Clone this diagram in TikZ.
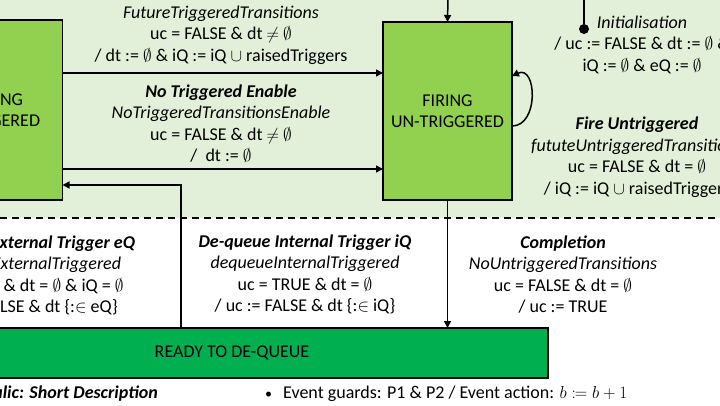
\documentclass[tikz,border=0pt]{standalone}
\usepackage{amssymb}
\usepackage{mathtools}
\usepackage{fontspec}
\setmainfont{Carlito}
\usepackage{tikz}
\usetikzlibrary{arrows.meta}
\definecolor{paleGreen}{HTML}{E2F0D9}
\definecolor{stateGreen}{HTML}{92D050}
\definecolor{readyGreen}{HTML}{00B050}
\newcommand{\eset}{\ensuremath{\emptyset}}

\begin{document}
\begin{tikzpicture}[x=1pt, y=-1pt, every text node part/.style={align=center}, font=\fontsize{18}{21.5}\selectfont, state/.style={draw, line width=1.5pt, fill=stateGreen, inner sep=0pt, outer sep=0pt}, lbl/.style={inner sep=0pt}, arr/.style={line width=1.5pt, -{Triangle[length=7pt,width=7pt]}}]
\clip (0,0) rectangle (720,405);
\fill[paleGreen] (0,0) rectangle (720,218);
\draw[line width=1.2pt, dash pattern=on 7pt off 5pt] (0,218) -- (720,218);

\node[state, minimum width=129pt, minimum height=180pt] (trig) at (-2,110) {FIRING\\TRIGGERED};
\node[state, minimum width=129pt, minimum height=178pt] (untrig) at (447.5,111) {FIRING\\UN-TRIGGERED};
\node[state, fill=readyGreen, minimum width=632pt, minimum height=50pt] (ready) at (232,353) {READY TO DE-QUEUE};

\draw[arr] ([yshift=-53pt]trig.north east) -- ([yshift=-53pt]trig.north east -| untrig.west);
\draw[arr] ([yshift=-149pt]trig.north east) -- ([yshift=-149pt]trig.north east -| untrig.west);
\draw[arr] ([xshift=-51pt]ready.north) |- ([yshift=15pt]trig.south east);
\draw[arr] (untrig.south) -- (untrig.south |- ready.north);
\coordinate (enter) at (448,-2);
\draw[arr] (enter) -- (untrig.north);
\draw[arr] ([yshift=-15pt]untrig.east) to[out=0, in=25, looseness=1.4] ([yshift=35pt]untrig.east);
\coordinate (initTop) at (584,-2);
\node[circle, fill, inner sep=0pt, minimum size=10pt] (initDot) at (584,29) {};
\draw[line width=1.5pt] (initTop) -- (initDot);

\node[lbl] (future) at (221,35) {\textit{FutureTriggeredTransitions}\\uc = FALSE \& dt $\neq$ \eset\\/ dt := \eset\ \& iQ := iQ $\cup$ raisedTriggers};
\node[lbl] (noTrig) at (221,123.5) {\textbf{\textit{No Triggered Enable}}\\\textit{NoTriggeredTransitionsEnable}\\uc = FALSE \& dt $\neq$ \eset\\/\ \ dt := \eset};
\node[lbl] (init) at (642,44.5) {\textit{Initialisation}\\/ uc := FALSE \& dt := \eset\ \&\\iQ := \eset\ \& eQ := \eset};
\node[lbl] (fire) at (637,157) {\textbf{\textit{Fire Untriggered}}\\\textit{fututeUntriggeredTransitions}\\uc = FALSE \& dt = \eset\\/ iQ := iQ $\cup$ raisedTriggers};
\node[lbl] (dqExt) at (25,275.5) {\textbf{\textit{De-queue External Trigger eQ}}\\\textit{dequeueExternalTriggered}\\uc = TRUE \& dt = \eset\ \& iQ = \eset\\/ uc := FALSE \& dt \{:$\in$ eQ\}};
\node[lbl] (dqInt) at (305,274.5) {\textbf{\textit{De-queue Internal Trigger iQ}}\\\textit{dequeueInternalTriggered}\\uc = TRUE \& dt = \eset\\/ uc := FALSE \& dt \{:$\in$ iQ\}};
\node[lbl] (compl) at (563,274.5) {\textbf{\textit{Completion}}\\\textit{NoUntriggeredTransitions}\\uc = FALSE \& dt = \eset\\/ uc := TRUE};

\node[lbl, anchor=east, font=\fontsize{18}{21.5}\selectfont\bfseries\itshape] (legendA) at (158,394) {Bold Italic: Short Description};
\node[lbl, anchor=west] (legendB) at (265,394) {{\fontsize{14}{14}\selectfont\textbullet}\hspace{11pt}Event guards: P1 \& P2 / Event action: $b \coloneqq b+1$};
\end{tikzpicture}
\end{document}
